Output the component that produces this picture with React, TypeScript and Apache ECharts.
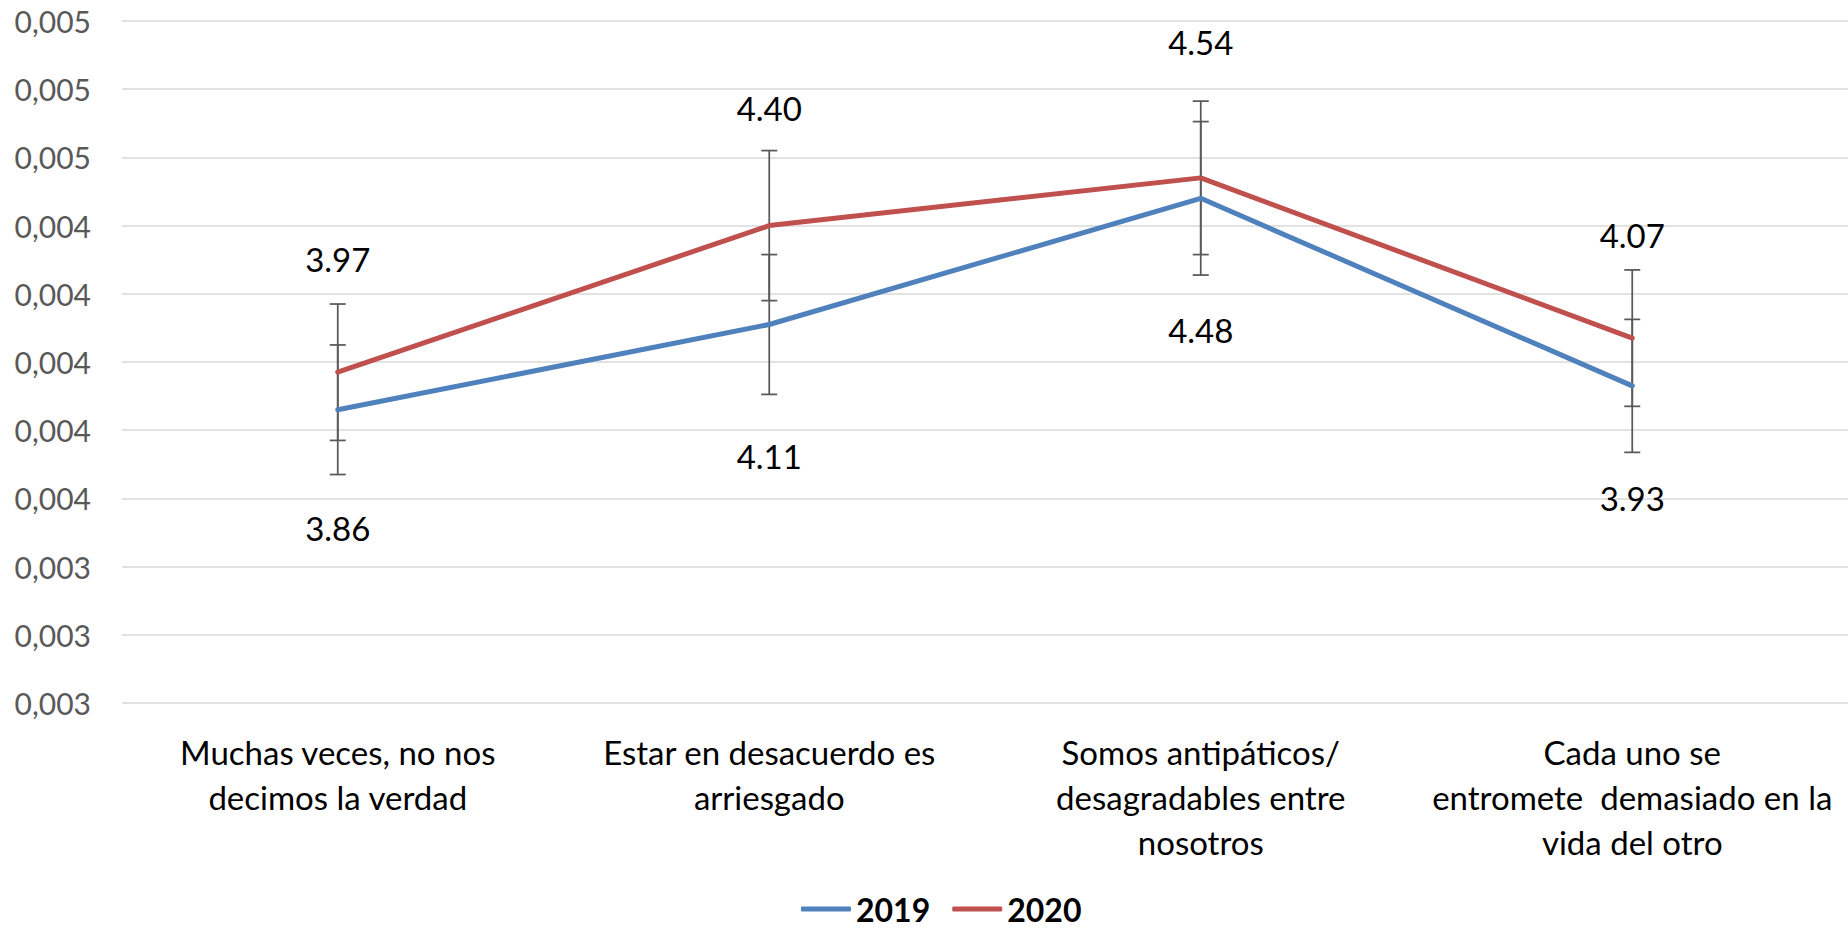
import React, { useEffect, useRef } from "react";
import * as echarts from "echarts";

const categories = [
  "Muchas veces, no nos\ndecimos la verdad",
  "Estar en desacuerdo es\narriesgado",
  "Somos antipáticos/\ndesagradables entre\nnosotros",
  "Cada uno se\nentromete  demasiado en la\nvida del otro",
];
const seriesNames = ["2019", "2020"];
const values2019 = [3.86, 4.11, 4.48, 3.93];
const values2020 = [3.97, 4.4, 4.54, 4.07];
const errors2019 = [0.19, 0.205, 0.225, 0.195];
const errors2020 = [0.2, 0.22, 0.225, 0.2];
const yTickLabels = [
  "0,003", "0,003", "0,003", "0,004", "0,004", "0,004",
  "0,004", "0,004", "0,005", "0,005", "0,005",
];

// label placement (pixels from the point, style only)
const labelShift2019 = [118, 132, 132, 112];
const labelShift2020 = [-113, -118, -136, -103];

const COLORS = ["#4F81BD", "#C0504D"];
const FONT = "Lato";

function errorSeries(name: string, values: number[], errors: number[], shifts: number[]) {
  return {
    name: name + " err",
    type: "custom",
    z: 1,
    silent: true,
    encode: { x: 0, y: 1 },
    data: values.map((v, i) => [i, v, errors[i]]),
    renderItem: (params: any, api: any) => {
      const i = api.value(0);
      const v = api.value(1);
      const e = api.value(2);
      const top = api.coord([i, v + e]);
      const bot = api.coord([i, v - e]);
      const c = api.coord([i, v]);
      const hw = 8;
      const st = { stroke: "#595959", lineWidth: 1.75 };
      return {
        type: "group",
        children: [
          { type: "line", shape: { x1: top[0], y1: top[1], x2: bot[0], y2: bot[1] }, style: st },
          { type: "line", shape: { x1: top[0] - hw, y1: top[1], x2: top[0] + hw, y2: top[1] }, style: st },
          { type: "line", shape: { x1: bot[0] - hw, y1: bot[1], x2: bot[0] + hw, y2: bot[1] }, style: st },
          {
            type: "text",
            x: c[0],
            y: c[1] + shifts[params.dataIndex],
            style: {
              text: v.toFixed(2),
              fill: "#000000",
              fontSize: 33,
              fontFamily: FONT,
              align: "center",
              verticalAlign: "middle",
            },
          },
        ],
      };
    },
  };
}

export default function App() {
  const ref = useRef<HTMLDivElement>(null);
  useEffect(() => {
    if (!ref.current) return;
    const chart = echarts.init(ref.current, null, { renderer: "svg" });
    chart.setOption({
      animation: false,
      backgroundColor: "#ffffff",
      grid: { left: 122, right: 0, top: 21, bottom: 227, containLabel: false },
      legend: {
        left: 801,
        top: 893,
        padding: 0,
        itemWidth: 50,
        itemHeight: 5,
        itemGap: 22,
        data: seriesNames.map((n) => ({ name: n, icon: "roundRect" })),
        textStyle: {
          fontSize: 32,
          lineHeight: 32,
          fontWeight: "bold",
          fontFamily: FONT,
          color: "#000000",
        },
      },
      xAxis: {
        type: "category",
        data: categories,
        boundaryGap: true,
        axisLine: { show: false },
        axisTick: { show: false },
        axisLabel: {
          interval: 0,
          margin: 26,
          fontSize: 33,
          lineHeight: 45,
          fontFamily: FONT,
          color: "#000000",
          align: "center",
        },
      },
      yAxis: {
        type: "value",
        min: 3,
        max: 5,
        interval: 0.2,
        axisLine: { show: false },
        axisTick: { show: false },
        splitLine: { lineStyle: { color: "#D9D9D9", width: 1.5 } },
        axisLabel: {
          margin: 31,
          fontSize: 30,
          fontFamily: FONT,
          color: "#595959",
          formatter: (_v: number, idx: number) => yTickLabels[idx],
        },
      },
      series: [
        errorSeries(seriesNames[0], values2019, errors2019, labelShift2019),
        errorSeries(seriesNames[1], values2020, errors2020, labelShift2020),
        {
          name: seriesNames[0],
          type: "line",
          z: 3,
          data: values2019,
          symbol: "none",
          color: COLORS[0],
          lineStyle: { color: COLORS[0], width: 5, cap: "round", join: "round" },
        },
        {
          name: seriesNames[1],
          type: "line",
          z: 3,
          data: values2020,
          symbol: "none",
          color: COLORS[1],
          lineStyle: { color: COLORS[1], width: 5, cap: "round", join: "round" },
        },
      ],
    });
    return () => chart.dispose();
  }, []);
  return (
    <div
      ref={ref}
      style={{ position: "fixed", left: 0, top: 0, width: 1848, height: 930, background: "#fff" }}
    />
  );
}
